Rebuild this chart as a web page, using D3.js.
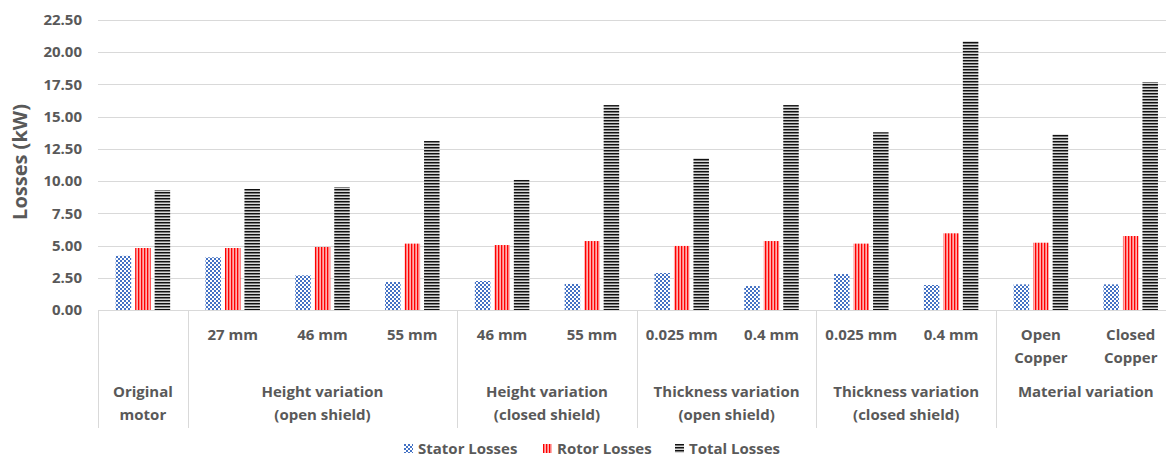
<!DOCTYPE html>
<html><head><meta charset="utf-8">
<script src="https://cdn.jsdelivr.net/npm/d3@7"></script>
<style>body{margin:0;background:#fff;}svg{display:block;font-family:"Open Sans",sans-serif;}</style>
</head><body><svg id="c" width="1166" height="458"></svg>
<script>
const categories = ["Original motor","27 mm","46 mm","55 mm","46 mm (closed)","55 mm (closed)","0.025 mm","0.4 mm","0.025 mm (closed)","0.4 mm (closed)","Open Copper","Closed Copper"];
const subLabels = [[],["27 mm"],["46 mm"],["55 mm"],["46 mm"],["55 mm"],["0.025 mm"],["0.4 mm"],["0.025 mm"],["0.4 mm"],["Open","Copper"],["Closed","Copper"]];
const groupNames = [["Original","motor"],["Height variation","(open shield)"],["Height variation","(closed shield)"],["Thickness variation","(open shield)"],["Thickness variation","(closed shield)"],["Material variation"]];
const groupSizes = [1,3,2,2,2,2];
const seriesNames = ["Stator Losses","Rotor Losses","Total Losses"];
const stator = [4.20,4.09,2.69,2.17,2.25,2.02,2.87,1.86,2.79,1.94,1.99,1.99];
const rotor  = [4.81,4.81,4.89,5.15,5.04,5.35,4.97,5.35,5.15,5.95,5.22,5.74];
const total  = [9.31,9.39,9.54,13.11,10.09,15.90,11.79,15.90,13.79,20.87,13.63,17.69];
const yTicks = [0,2.5,5,7.5,10,12.5,15,17.5,20,22.5];

(function(){
const svg = d3.select("#c");
const left = 98, catW = 89.8, plotTop = 20, plotBottom = 310;
const x = d3.scaleBand().domain(categories).range([left, left + catW*categories.length]).padding(0);
const xs = d3.scaleBand().domain(seriesNames).range([0, x.bandwidth()]).paddingInner(0.205).paddingOuter(0.905);
const y = d3.scaleLinear().domain([0,22.5]).range([plotBottom, plotTop]);
const txt = "#595959", grid = "#d9d9d9";

// patterns
const defs = svg.append("defs");
const p1 = defs.append("pattern").attr("id","pStator").attr("patternUnits","userSpaceOnUse").attr("width",4).attr("height",4);
p1.append("rect").attr("width",4).attr("height",4).attr("fill","#ffffff");
p1.append("rect").attr("x",0).attr("y",0).attr("width",2).attr("height",2).attr("fill","#4472C4");
p1.append("rect").attr("x",2).attr("y",2).attr("width",2).attr("height",2).attr("fill","#4472C4");
const p2 = defs.append("pattern").attr("id","pRotor").attr("patternUnits","userSpaceOnUse").attr("width",3).attr("height",4);
p2.append("rect").attr("width",3).attr("height",4).attr("fill","#ffb0b0");
p2.append("rect").attr("x",0).attr("width",1.3).attr("height",4).attr("fill","#ff0000");
const p3 = defs.append("pattern").attr("id","pTotal").attr("patternUnits","userSpaceOnUse").attr("width",4).attr("height",3);
p3.append("rect").attr("width",4).attr("height",3).attr("fill","#d8d8d8");
p3.append("rect").attr("y",0).attr("width",4).attr("height",1).attr("fill","#111111");
p3.append("rect").attr("y",1).attr("width",4).attr("height",1).attr("fill","#7a7a7a");
const fills = {"Stator Losses":"url(#pStator)","Rotor Losses":"url(#pRotor)","Total Losses":"url(#pTotal)"};

// gridlines
svg.append("g").selectAll("line").data(yTicks).join("line")
  .attr("x1", left).attr("x2", 1166).attr("y1", d=>Math.round(y(d))+0.5).attr("y2", d=>Math.round(y(d))+0.5)
  .attr("stroke", grid).attr("stroke-width",1);

// y tick labels
svg.append("g").selectAll("text").data(yTicks).join("text")
  .attr("x", 82).attr("y", d=>y(d)).attr("dy","0.35em").attr("text-anchor","end")
  .attr("fill", txt).attr("font-size", 15).attr("font-weight","bold")
  .text(d=>d3.format(".2f")(d));

// y title
svg.append("text").attr("transform","translate(27,162) rotate(-90)").attr("text-anchor","middle")
  .attr("fill", txt).attr("font-size", 20).attr("font-weight","bold").text("Losses (kW)");

// bars
const data = categories.map((c,i)=>({c, vals:[["Stator Losses",stator[i]],["Rotor Losses",rotor[i]],["Total Losses",total[i]]]}));
const gb = svg.append("g");
data.forEach(d=>{
  gb.append("g").selectAll("rect").data(d.vals).join("rect")
    .attr("x", v=>x(d.c)+xs(v[0])).attr("width", xs.bandwidth())
    .attr("y", v=>y(v[1])).attr("height", v=>y(0)-y(v[1]))
    .attr("fill", v=>fills[v[0]]);
});

// category table
const axisG = svg.append("g");
axisG.append("line").attr("x1",left).attr("x2",1166).attr("y1",plotBottom+0.5).attr("y2",plotBottom+0.5).attr("stroke",grid);
let idx = 0;
const bounds = [left];
groupSizes.forEach(s=>{ idx += s; bounds.push(x(categories[idx-1]) + x.bandwidth()); });
axisG.selectAll("line.sep").data(bounds).join("line").attr("class","sep")
  .attr("x1", d=>Math.round(d)+0.5).attr("x2", d=>Math.round(d)+0.5).attr("y1", plotBottom).attr("y2", 428)
  .attr("stroke", grid);

// sub labels
categories.forEach((c,i)=>{
  const t = axisG.append("text").attr("text-anchor","middle").attr("fill",txt).attr("font-size",15).attr("font-weight","bold");
  subLabels[i].forEach((l,k)=>t.append("tspan").attr("x", x(c)+x.bandwidth()/2).attr("y", 340+k*22.5).text(l));
});
// group labels
let start = 0;
groupNames.forEach((g,gi)=>{
  const x0 = x(categories[start]), x1 = x(categories[start+groupSizes[gi]-1]) + x.bandwidth();
  const cx = (x0+x1)/2;
  const t = axisG.append("text").attr("text-anchor","middle").attr("fill",txt).attr("font-size",15).attr("font-weight","bold");
  g.forEach((l,k)=>t.append("tspan").attr("x",cx).attr("y",397+k*23).text(l));
  start += groupSizes[gi];
});

// legend
const legX = [404, 543, 675];
const lg = svg.append("g");
seriesNames.forEach((s,i)=>{
  lg.append("rect").attr("x",legX[i]).attr("y",444).attr("width",9).attr("height",9).attr("fill",fills[s]);
  lg.append("text").attr("x",legX[i]+14).attr("y",454).attr("fill",txt).attr("font-size",15).attr("font-weight","bold").text(s);
});
})();
</script></body></html>
